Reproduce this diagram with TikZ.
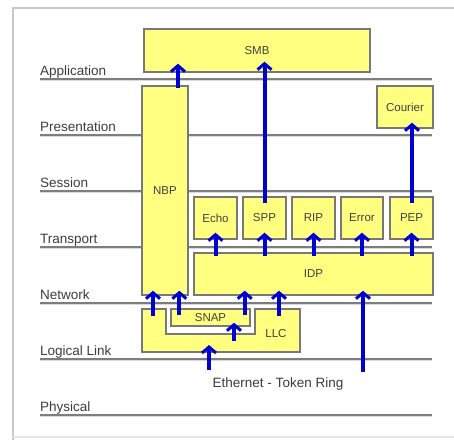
\documentclass[tikz,border=0pt]{standalone}
\usepackage{fontspec}
\setmainfont{Liberation Sans}
\usetikzlibrary{arrows.meta,calc}
\definecolor{boxfill}{RGB}{255,255,128}
\definecolor{boxline}{RGB}{120,120,120}
\definecolor{layerline}{RGB}{125,125,125}
\definecolor{arrblue}{RGB}{0,0,210}
\definecolor{framegray}{RGB}{200,200,200}
\definecolor{labelgray}{RGB}{60,60,60}
\tikzset{
  layerlbl/.style={anchor=base west,inner sep=0pt,text=labelgray,font=\fontsize{13.5}{16}\selectfont},
  layer/.style={draw=layerline,line width=1.5pt},
  layershadow/.style={draw=black!15,line width=1pt},
  box/.style={draw=boxline,fill=boxfill,line width=1.4pt,inner sep=0pt,text=black!75,font=\fontsize{11.5}{13}\selectfont},
  arr/.style={draw=arrblue,line width=4pt,-{Straight Barb[length=6pt,width=14pt,line width=3pt]}},
}
\begin{document}
\begin{tikzpicture}[x=1pt,y=-1pt]
\useasboundingbox (0,0) rectangle (454,440);
% frame
\draw[framegray,line width=2.5pt] (13,440) -- (13,8) -- (454,8);
\draw[black!10,line width=1.5pt] (13,437) -- (454,437);
% layer lines and labels
\foreach \y in {79,135,191,247,303,359,415}{
  \draw[layershadow] (40,\y+1.8) -- (432,\y+1.8);
  \draw[layer] (40,\y) -- (432,\y);
}
\node[layerlbl] (lApp) at (40,75) {Application};
\node[layerlbl] (lPre) at (40,131) {Presentation};
\node[layerlbl] (lSes) at (40,187) {Session};
\node[layerlbl] (lTra) at (40,243) {Transport};
\node[layerlbl] (lNet) at (40,299) {Network};
\node[layerlbl] (lLog) at (40,355) {Logical Link};
\node[layerlbl] (lPhy) at (40,411) {Physical};
% boxes
\node[box,minimum width=226,minimum height=43] (smb) at (257,50.5) {SMB};
\node[box,minimum width=46,minimum height=209] (nbp) at (165,190.5) {NBP};
\node[box,minimum width=56,minimum height=42] (courier) at (405,107) {Courier};
\node[box,minimum width=43,minimum height=42] (echo) at (215.5,218) {Echo};
\node[box,minimum width=43,minimum height=42] (spp) at (264.5,218) {SPP};
\node[box,minimum width=43,minimum height=42] (rip) at (313.5,218) {RIP};
\node[box,minimum width=42,minimum height=42] (error) at (362,218) {Error};
\node[box,minimum width=43,minimum height=42] (pep) at (411.5,218) {PEP};
\node[box,minimum width=239,minimum height=42] (idp) at (313.5,274) {IDP};
% LLC outline with notch
\draw[box] (142,309) -- (166,309) -- (166,334) -- (255,334) -- (255,309) -- (300,309) -- (300,352) -- (142,352) -- cycle;
\node[box,draw=none,fill=none] (llc) at (276,334) {LLC};
\coordinate (llcbottom) at (221,352);
\node[box,minimum width=79,minimum height=17] (snap) at (210.5,317.5) {SNAP};
\node[inner sep=0pt,text=labelgray,font=\fontsize{13.5}{16}\selectfont] (eth) at (278,384) {Ethernet - Token Ring};
% tails inside LLC and free ends
\coordinate (llcA) at (153,316);
\coordinate (llcB) at (279,316);
\coordinate (llcC) at (234,341);
\coordinate (phyA) at (209,370);
\coordinate (phyB) at (363,372);
% arrows
\draw[arr] ($(nbp.north)+(13,3)$) -- ($(nbp.north |- smb.south)+(13,-9)$);
\draw[arr] ($(spp.north)+(0,7)$) -- ($(spp.north |- smb.south)+(0,-11)$);
\draw[arr] ($(pep.north)+(0.5,7)$) -- ($(pep.north |- courier.south)+(0.5,-6)$);
\foreach \b in {echo,spp,rip,error,pep}{
  \draw[arr] ($(\b.south |- idp.north)+(0,4)$) -- ($(\b.south)+(0,-7)$);
}
\draw[arr] (llcA) -- ($(llcA |- nbp.south)+(0,-5)$);
\draw[arr] ($(snap.north west)+(9,7)$) -- ($(snap.north west |- nbp.south)+(9,-5)$);
\draw[arr] ($(snap.north east)+(-6,7)$) -- ($(snap.north east |- idp.south)+(-6,-5)$);
\draw[arr] (llcB) -- ($(llcB |- idp.south)+(0,-5)$);
\draw[arr] (phyB) -- ($(phyB |- idp.south)+(0,-5)$);
\draw[arr] (llcC) -- ($(llcC |- snap.south)+(0,-4)$);
\draw[arr] (phyA) -- ($(phyA |- llcbottom)+(0,-7)$);
\end{tikzpicture}
\end{document}
